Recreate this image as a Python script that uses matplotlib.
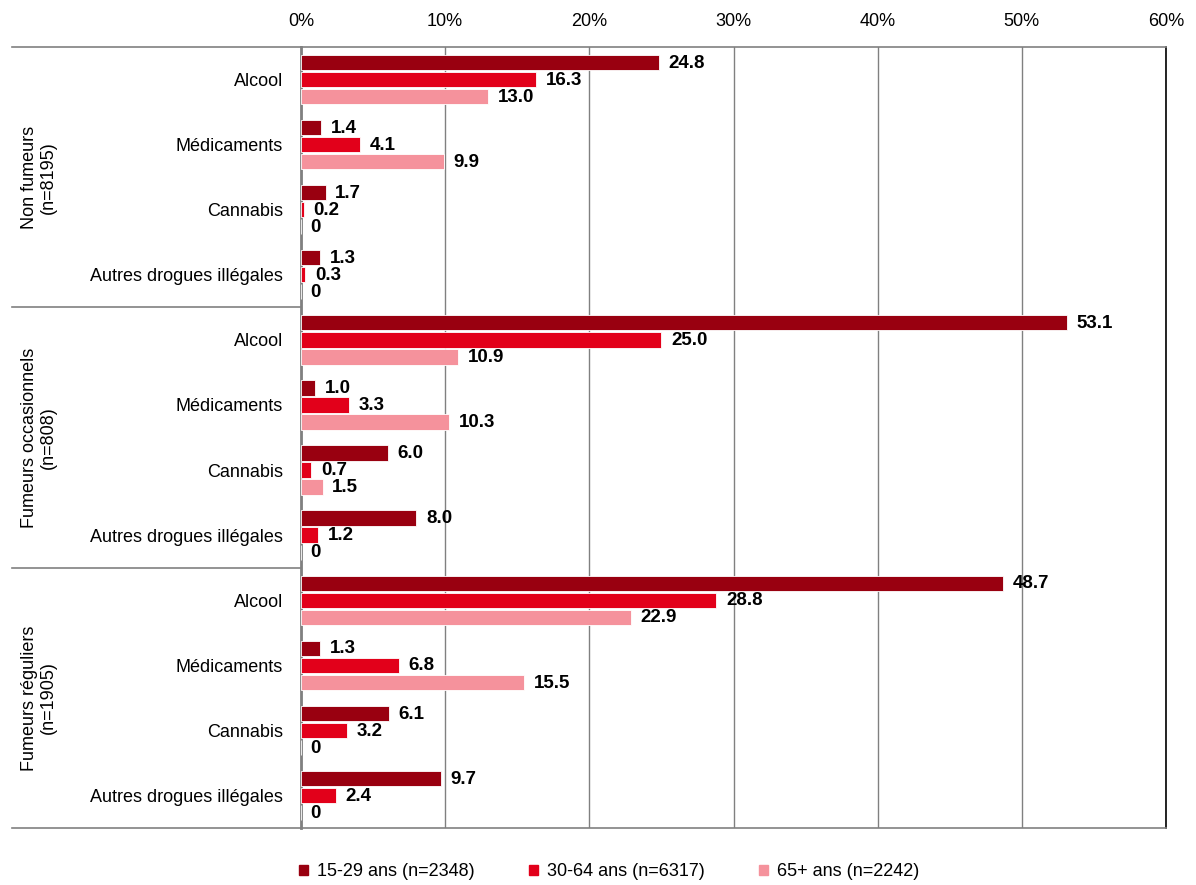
import matplotlib
matplotlib.use("Agg")
import matplotlib.pyplot as plt
import matplotlib.transforms as mtransforms
from matplotlib.patches import Rectangle
import numpy as np

plt.rcParams['font.family'] = ['Liberation Sans', 'DejaVu Sans']

groups = ["Non fumeurs\n(n=8195)", "Fumeurs occasionnels\n(n=808)", "Fumeurs réguliers\n(n=1905)"]
substances = ["Alcool", "Médicaments", "Cannabis", "Autres drogues illégales"]
series_names = ["15-29 ans (n=2348)", "30-64 ans (n=6317)", "65+ ans (n=2242)"]
colors = ["#990010", "#E2001A", "#F5929C"]

s1529 = [24.8, 1.4, 1.7, 1.3, 53.1, 1.0, 6.0, 8.0, 48.7, 1.3, 6.1, 9.7]
s3064 = [16.3, 4.1, 0.2, 0.3, 25.0, 3.3, 0.7, 1.2, 28.8, 6.8, 3.2, 2.4]
s65 = [13.0, 9.9, 0, 0, 10.9, 10.3, 1.5, 0, 22.9, 15.5, 0, 0]
series = [s1529, s3064, s65]
xticks = [0, 10, 20, 30, 40, 50, 60]

W, H = 1196, 885
fig = plt.figure(figsize=(W / 100, H / 100), dpi=100)
L, R, T, B = 301, 1166, 47, 828
ax = fig.add_axes([L / W, 1 - B / H, (R - L) / W, (B - T) / H])

FS = 13
n = len(s1529)
y = np.arange(n)
step = 0.262
bh = 0.235
for i, (vals, c) in enumerate(zip(series, colors)):
    yy = y + (i - 1) * step
    ax.barh(yy, vals, height=bh, color=c, edgecolor='white', linewidth=0.6, zorder=3)
    for v, yv in zip(vals, yy):
        txt = "0" if v == 0 else f"{v:.1f}"
        ax.annotate(txt, (v, yv), xytext=(7, -0.5), textcoords='offset points',
                    ha='left', va='center', fontsize=13.5, fontweight='bold', color='black', zorder=4)

ax.set_xlim(0, 60)
ax.set_ylim(n - 0.5, -0.5)
ax.set_xticks(xticks)
ax.set_xticklabels([f"{t}%" for t in xticks], fontsize=FS)
ax.xaxis.tick_top()
ax.tick_params(axis='x', length=0, pad=12)
ax.set_yticks(y)
ax.set_yticklabels(substances * 3, fontsize=FS)
ax.tick_params(axis='y', length=0, pad=13)
ax.grid(axis='x', color='#808080', linewidth=1.0, zorder=0)

for side in ['top', 'bottom']:
    ax.spines[side].set_color('#808080')
    ax.spines[side].set_linewidth(1.2)
ax.spines['left'].set_color('#808080')
ax.spines['left'].set_linewidth(2)
ax.spines['right'].set_color('black')
ax.spines['right'].set_linewidth(1.2)

trans = mtransforms.blended_transform_factory(ax.transAxes, ax.transData)
x0 = (12 - L) / (R - L)
for yb in [-0.5, 3.5, 7.5, 11.5]:
    ax.plot([x0, 0], [yb, yb], transform=trans, color='#808080', linewidth=1.2, clip_on=False)

for g, name in enumerate(groups):
    ax.text((39 - L) / (R - L), 4 * g + 1.5, name, transform=trans, rotation=90,
            ha='center', va='center', fontsize=FS, multialignment='center', linespacing=1.1)

handles = [Rectangle((0, 0), 1, 1, color=c) for c in colors]
fig.legend(handles, series_names, loc='center', bbox_to_anchor=(609 / W, 1 - 872 / H),
           ncol=3, frameon=False, fontsize=FS, handlelength=0.5, handleheight=0.5,
           handletextpad=0.5, columnspacing=3.0)

fig.savefig("out.png", dpi=100)
